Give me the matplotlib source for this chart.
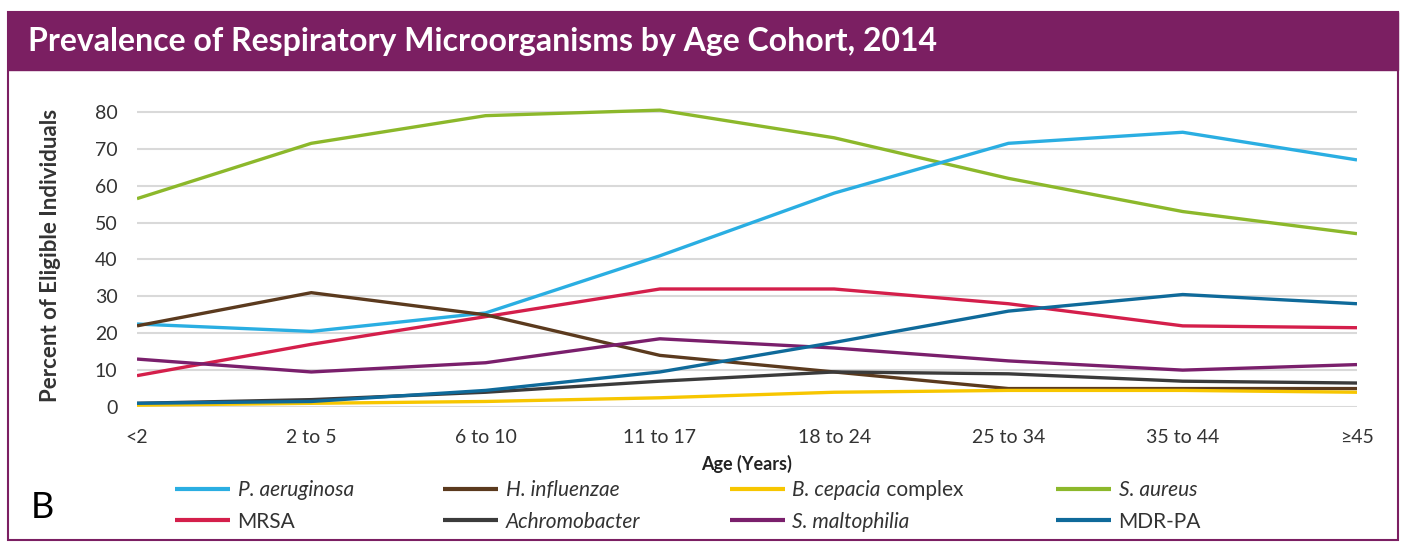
import numpy as np
import matplotlib.pyplot as plt
from matplotlib.patches import Rectangle

plt.rcParams['font.family'] = ['Lato', 'DejaVu Sans']

ages = ['<2', '2 to 5', '6 to 10', '11 to 17', '18 to 24', '25 to 34', '35 to 44', '≥45']

p_aeruginosa = [22.5, 20.5, 25.5, 41, 58, 71.5, 74.5, 67]
h_influenzae = [22, 31, 25, 14, 9.5, 5, 5, 5]
b_cepacia = [0.5, 1, 1.5, 2.5, 4, 4.5, 4.5, 4]
s_aureus = [56.5, 71.5, 79, 80.5, 73, 62, 53, 47]
mrsa = [8.5, 17, 24.5, 32, 32, 28, 22, 21.5]
achromobacter = [1, 2, 4, 7, 9.5, 9, 7, 6.5]
s_maltophilia = [13, 9.5, 12, 18.5, 16, 12.5, 10, 11.5]
mdr_pa = [1, 1.5, 4.5, 9.5, 17.5, 26, 30.5, 28]

# (label, values, colour, italic)
series = [
    ('P. aeruginosa', p_aeruginosa, '#2aaee2', True),
    ('H. influenzae', h_influenzae, '#5b3a1e', True),
    ('B. cepacia complex', b_cepacia, '#f7c600', None),   # mixed style
    ('S. aureus', s_aureus, '#8cb82b', True),
    ('MRSA', mrsa, '#d41f4b', False),
    ('Achromobacter', achromobacter, '#3b3b3b', True),
    ('S. maltophilia', s_maltophilia, '#7a1f6c', True),
    ('MDR-PA', mdr_pa, '#0f6a9a', False),
]
# draw order (back to front)
draw_order = [3, 0, 4, 1, 6, 5, 2, 7]

purple = '#7b1f62'
txt_color = '#333333'

fig = plt.figure(figsize=(14.14, 5.48), dpi=100)
fig.set_facecolor('white')

# frame and header bar
fig.patches.append(Rectangle((8 / 1414, 1 - 540 / 548), 1390 / 1414, 528 / 548,
                             transform=fig.transFigure, fill=False,
                             edgecolor=purple, lw=1.5))
fig.patches.append(Rectangle((8 / 1414, 1 - 70 / 548), 1390 / 1414, 58 / 548,
                             transform=fig.transFigure, facecolor=purple,
                             edgecolor=purple))
fig.text(28 / 1414, 1 - 42 / 548, 'Prevalence of Respiratory Microorganisms by Age Cohort, 2014',
         color='white', fontsize=23, fontweight='bold', va='center', ha='left')

ax = fig.add_axes([137 / 1414, 1 - 407 / 548, 1220 / 1414, (407 - 104.6) / 548])
x = np.arange(len(ages))
lines = {}
for i in draw_order:
    label, vals, color, _ = series[i]
    lines[i], = ax.plot(x, vals, color=color, lw=2.4, label=label, solid_capstyle='butt')

ax.set_xlim(0, len(ages) - 1)
ax.set_ylim(0, 82)
ax.set_yticks(range(0, 81, 10))
ax.set_xticks(x)
ax.set_xticklabels(ages)
ax.grid(axis='y', color='#d9d9d9', lw=1.5)
ax.set_axisbelow(True)
for s in ax.spines.values():
    s.set_visible(False)
ax.tick_params(length=0, labelsize=14, colors=txt_color)
ax.tick_params(axis='x', pad=16)
ax.tick_params(axis='y', pad=14)
ax.set_ylabel('Percent of Eligible Individuals', fontsize=16, fontweight='bold',
              labelpad=24, color=txt_color)
ax.set_xlabel('Age (Years)', fontsize=13, fontweight='bold', labelpad=6, color='#222222')

# legend: 2 rows x 4 cols, filled column-wise
leg_idx = [0, 4, 1, 5, 2, 6, 3, 7]
leg = fig.legend([lines[i] for i in leg_idx], [series[i][0] for i in leg_idx],
                 ncol=4, loc='center', bbox_to_anchor=(688 / 1414, 1 - 506 / 548),
                 frameon=False, fontsize=15, handlelength=2.65, columnspacing=4.3,
                 labelspacing=0.55, handletextpad=0.35)
for line in leg.get_lines():
    line.set_linewidth(3)
for t, i in zip(leg.get_texts(), leg_idx):
    t.set_color(txt_color)
    italic = series[i][3]
    if italic:
        t.set_fontstyle('italic')
    elif italic is None:
        # keep the full label for layout, overlay italic + upright parts
        t.set_alpha(0)
        first = plt.Annotation('B. cepacia', xy=(0, 0), xycoords=t,
                               ha='left', va='bottom', fontsize=15,
                               fontstyle='italic', color=txt_color, zorder=10)
        fig.add_artist(first)
        fig.add_artist(plt.Annotation(' complex', xy=(1, 0), xycoords=first,
                                      ha='left', va='bottom', fontsize=15,
                                      color=txt_color, zorder=10))

fig.text(42 / 1414, 1 - 507 / 548, 'B', fontsize=26, ha='center', va='center')

fig.savefig('out.png', dpi=100)
